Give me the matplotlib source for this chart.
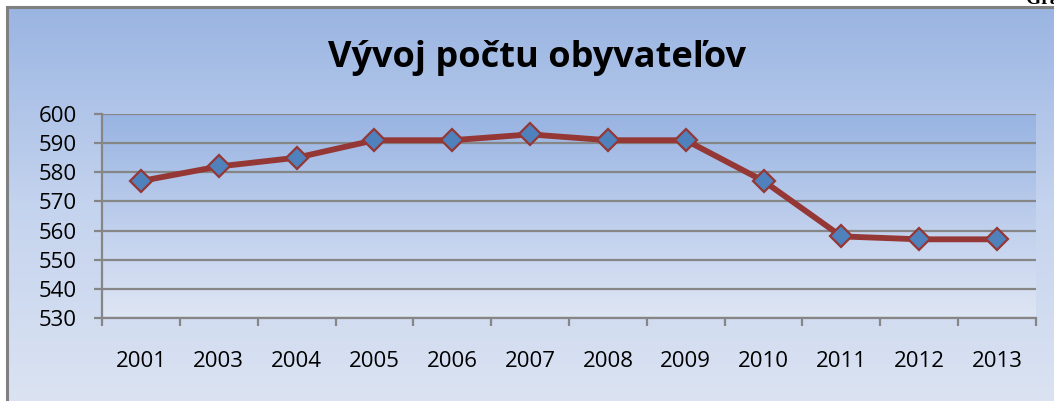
import numpy as np
import matplotlib
matplotlib.use("Agg")
import matplotlib.pyplot as plt
from matplotlib.patches import Rectangle
from matplotlib.colors import LinearSegmentedColormap

years = ["2001", "2003", "2004", "2005", "2006", "2007", "2008", "2009", "2010", "2011", "2012", "2013"]
population = [577, 582, 585, 591, 591, 593, 591, 591, 577, 558, 557, 557]
y_ticks = [530, 540, 550, 560, 570, 580, 590, 600]
title = "Vývoj počtu obyvateľov"

W, H = 1054, 401
fig = plt.figure(figsize=(W / 100, H / 100), dpi=100)
fig.patch.set_facecolor("white")

# chart-area gradient background (frame starts at x=7, y=7 px)
fx0, fy1 = 7 / W, 1 - 7 / H
bg = fig.add_axes([fx0, 0, 1 - fx0, fy1])
bg.set_axis_off()
cmap_bg = LinearSegmentedColormap.from_list("bg", ["#dbe3f2", "#c4d3ee", "#9ab5e2"])
grad = np.linspace(0, 1, 256).reshape(-1, 1)
bg.imshow(grad, aspect="auto", cmap=cmap_bg, origin="lower", extent=[0, 1, 0, 1])
bg.set_xlim(0, 1)
bg.set_ylim(0, 1)
# frame border
fig.add_artist(Rectangle((fx0, -0.05), 1.05, fy1 + 0.05, transform=fig.transFigure,
                         fill=False, edgecolor="#808080", linewidth=2.2, zorder=5))

# caption above the chart, cut off at the top edge as in the reference
fig.text(1026 / W, 1 - 4 / H, "Graf č. 1", ha="left", va="baseline", fontsize=14,
         family="Liberation Serif", fontweight="bold")

# plot area
px0, px1 = 102 / W, 1036 / W
py0, py1 = 1 - 318 / H, 1 - 114 / H
ax = fig.add_axes([px0, py0, px1 - px0, py1 - py0])
ax.set_xlim(-0.5, len(years) - 0.5)
ax.set_ylim(530, 600)
cmap_pa = LinearSegmentedColormap.from_list("pa", ["#dfe6f4", "#bccdec", "#98b4e2"])
ax.imshow(grad, aspect="auto", cmap=cmap_pa, origin="lower",
          extent=[-0.5, len(years) - 0.5, 530, 600], zorder=0)

for v in y_ticks:
    ax.axhline(v, color="#868686", linewidth=1.6, zorder=1)

x = np.arange(len(years))
ax.plot(x, population, color="#953735", linewidth=4.2, zorder=3,
        marker="D", markersize=11, markerfacecolor="#4f81bd",
        markeredgecolor="#953735", markeredgewidth=1.6)

for s in ["top", "right"]:
    ax.spines[s].set_visible(False)
for s in ["left", "bottom"]:
    ax.spines[s].set_color("#868686")
    ax.spines[s].set_linewidth(1.6)

ax.set_yticks(y_ticks)
ax.set_yticklabels([str(v) for v in y_ticks], fontsize=16, family="Open Sans")
ax.tick_params(axis="y", length=6, width=1.6, color="#868686", pad=12)

ax.set_xticks(x)
ax.set_xticklabels(years, fontsize=16, family="Open Sans")
ax.tick_params(axis="x", which="major", length=0, pad=24)
ax.set_xticks(np.arange(-0.5, len(years), 1.0), minor=True)
ax.tick_params(axis="x", which="minor", length=6, width=1.6, color="#868686")

fig.text(537 / W, 1 - 58 / H, title, ha="center", va="center", fontsize=26,
         fontweight="bold", family="Open Sans")

fig.savefig("out.png", dpi=100)
